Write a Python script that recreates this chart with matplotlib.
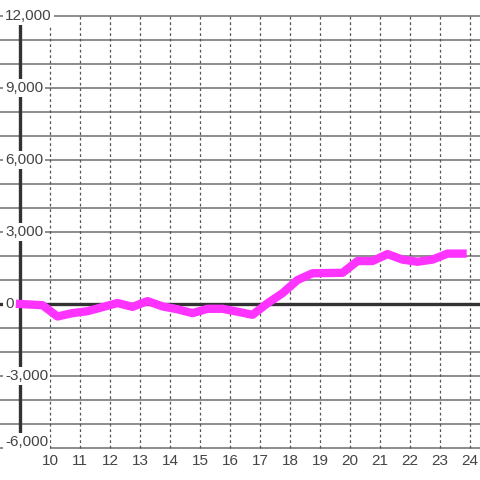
import matplotlib
matplotlib.use("Agg")
import matplotlib.pyplot as plt

# --- data ---
hours = [9.0, 9.75, 10.25, 10.75, 11.25, 11.75, 12.25, 12.75, 13.25, 13.75,
         14.25, 14.75, 15.25, 15.75, 16.25, 16.75, 17.25, 17.75, 18.25, 18.75,
         19.25, 19.75, 20.25, 20.75, 21.25, 21.75, 22.25, 22.75, 23.25, 23.75]
values = [0, -50, -520, -380, -300, -130, 40, -120, 120, -100,
          -220, -380, -200, -200, -320, -450, 30, 450, 1000, 1280,
          1290, 1300, 1790, 1790, 2080, 1850, 1760, 1850, 2100, 2100]
x_ticks = list(range(10, 25))
y_ticks = [-6000, -3000, 0, 3000, 6000, 9000, 12000]
y_grid = list(range(-6000, 12001, 1000))

plt.rcParams['font.family'] = ['Liberation Sans', 'DejaVu Sans']

fig = plt.figure(figsize=(4.8, 4.8), dpi=100)
ax = fig.add_axes([0, 32 / 480, 1, 432 / 480])
ax.set_xlim(10 - 50 / 30, 10 + 430 / 30)
ax.set_ylim(-6000, 12000)
ax.axis('off')

# grid
ax.hlines(y_grid, 8.3, 24.4, colors='#6e6e6e', lw=1.1, clip_on=False, zorder=1)
ax.vlines(x_ticks, -6000, 12000, colors='#555555', lw=0.9,
          linestyles=(0, (2.2, 2.2)), clip_on=False, zorder=1)

# zero line and left axis line
ax.axhline(0, color='#333333', lw=2.4, zorder=2)
ax.vlines([9.0], -6000, 12000, colors='#333333', lw=2.4, clip_on=False, zorder=2)

# y labels, left aligned, with white boxes
for v in y_ticks:
    dy = 6 if v == -6000 else 0
    ax.annotate(f"{v:,}", (8.333, v), xytext=(5, dy), textcoords='offset pixels',
                ha='left', va='center', fontsize=11, color='#444444',
                bbox=dict(facecolor='white', edgecolor='none', pad=1.5),
                zorder=4, annotation_clip=False)

# series
ax.plot(hours, values, color='#ff33ff', lw=6, solid_capstyle='projecting',
        solid_joinstyle='round', zorder=5, clip_on=False)

# x labels
for t in x_ticks:
    ax.annotate(str(t), (t, -6000), xytext=(0, -13), textcoords='offset pixels',
                ha='center', va='center', fontsize=11, color='#444444',
                annotation_clip=False)

fig.savefig('out.png', dpi=100, facecolor='white')
